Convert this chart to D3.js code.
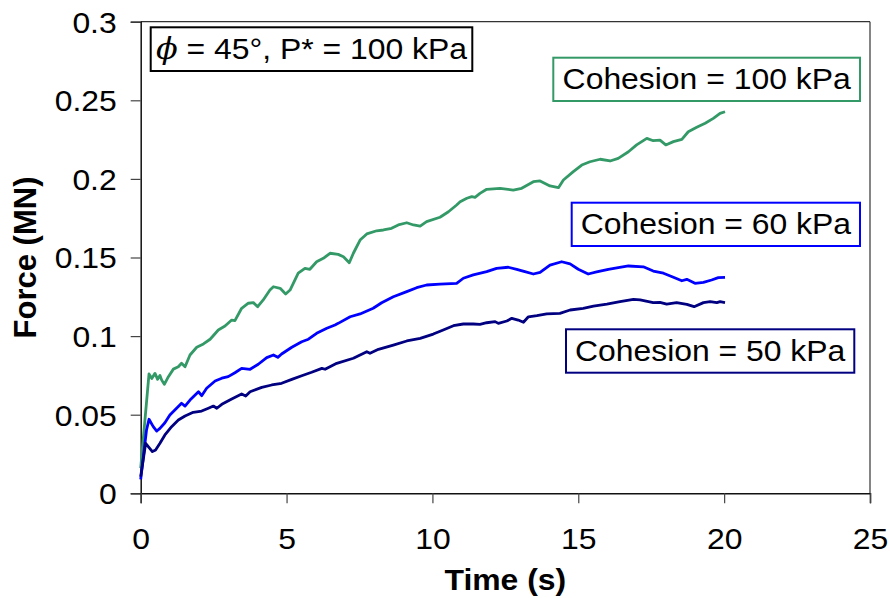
<!DOCTYPE html>
<html>
<head>
<meta charset="utf-8">
<script src="https://cdn.jsdelivr.net/npm/d3@7/dist/d3.min.js"></script>
<style>
  html, body { margin: 0; padding: 0; background: #fff; }
  svg { display: block; font-family: "Liberation Sans", Arial, sans-serif; }
</style>
</head>
<body>
<svg id="chart" width="890" height="598"></svg>
<script>
// Force-time histories for three soil cohesion values
const time100 = [0, 0.285, 0.38, 0.49, 0.58, 0.66, 0.72, 0.81, 0.95, 1.12, 1.29, 1.40, 1.52, 1.69, 1.92, 2.15, 2.38, 2.66, 2.89, 3.12, 3.23, 3.46, 3.69, 3.86, 4.01, 4.2, 4.43, 4.55, 4.78, 4.97, 5.12, 5.40, 5.63, 5.80, 6.03, 6.26, 6.49, 6.77, 6.95, 7.15, 7.29, 7.52, 7.75, 8.09, 8.32, 8.6, 8.83, 9.12, 9.35, 9.58, 9.80, 10.26, 10.55, 10.83, 10.95, 11.18, 11.35, 11.46, 11.63, 11.86, 12.32, 12.77, 13.06, 13.46, 13.69, 14.03, 14.32, 14.49, 14.83, 15.12, 15.40, 15.75, 16.09, 16.37, 16.72, 17.0, 17.35, 17.57, 17.80, 18.0, 18.26, 18.55, 18.77, 19.06, 19.35, 19.63, 19.86, 20.03];
const force100 = [0.016, 0.0759, 0.073, 0.0763, 0.0725, 0.075, 0.072, 0.0693, 0.0742, 0.079, 0.0805, 0.0827, 0.0805, 0.088, 0.0929, 0.095, 0.098, 0.1039, 0.1064, 0.1102, 0.1098, 0.1177, 0.1209, 0.1213, 0.1187, 0.123, 0.1293, 0.1314, 0.1304, 0.1268, 0.1293, 0.14, 0.1431, 0.1425, 0.1473, 0.1495, 0.1527, 0.152, 0.1505, 0.1467, 0.1527, 0.1611, 0.165, 0.167, 0.1675, 0.1686, 0.1707, 0.1721, 0.1707, 0.170, 0.1728, 0.1756, 0.1791, 0.1834, 0.1855, 0.1877, 0.1887, 0.1883, 0.1908, 0.1934, 0.194, 0.1929, 0.194, 0.1982, 0.1987, 0.1955, 0.1944, 0.1993, 0.2046, 0.2088, 0.2109, 0.2125, 0.2114, 0.2131, 0.2173, 0.2216, 0.2258, 0.2243, 0.2247, 0.2216, 0.2237, 0.2252, 0.23, 0.2328, 0.2354, 0.2385, 0.2417, 0.2427];

const time60 = [0, 0.2, 0.285, 0.43, 0.55, 0.66, 0.83, 1.0, 1.23, 1.40, 1.52, 1.69, 1.98, 2.09, 2.26, 2.55, 2.78, 3.0, 3.23, 3.46, 3.75, 4.03, 4.32, 4.55, 4.70, 4.83, 5.18, 5.52, 5.75, 6.03, 6.38, 6.66, 6.77, 7.18, 7.52, 7.97, 8.26, 8.66, 9.12, 9.46, 9.80, 10.26, 10.83, 11.06, 11.40, 11.86, 12.20, 12.60, 12.89, 13.17, 13.46, 13.69, 14.03, 14.43, 14.72, 15.0, 15.34, 15.63, 16.03, 16.37, 16.72, 17.23, 17.57, 17.92, 18.26, 18.55, 18.72, 19.0, 19.29, 19.57, 19.80, 20.03];
const force60 = [0.0089, 0.0403, 0.0471, 0.0424, 0.0396, 0.0413, 0.0449, 0.0498, 0.0541, 0.0573, 0.0555, 0.0593, 0.0646, 0.0621, 0.0668, 0.0714, 0.0732, 0.0742, 0.0767, 0.0795, 0.0789, 0.0821, 0.0863, 0.088, 0.0865, 0.0886, 0.0929, 0.0964, 0.098, 0.1018, 0.105, 0.1071, 0.1081, 0.1123, 0.1141, 0.1177, 0.1212, 0.125, 0.1283, 0.1308, 0.1325, 0.133, 0.1336, 0.1368, 0.1389, 0.141, 0.1431, 0.1438, 0.1425, 0.141, 0.1395, 0.1405, 0.1452, 0.1473, 0.1459, 0.1425, 0.1395, 0.1408, 0.1425, 0.1435, 0.1446, 0.1441, 0.1414, 0.14, 0.1374, 0.1352, 0.1361, 0.1336, 0.1342, 0.1357, 0.1372, 0.1374];

const time50 = [0, 0.17, 0.26, 0.40, 0.51, 0.66, 0.83, 1.06, 1.29, 1.52, 1.80, 2.09, 2.32, 2.49, 2.61, 2.78, 3.12, 3.46, 3.60, 3.75, 4.15, 4.49, 4.83, 5.18, 5.52, 5.86, 6.21, 6.32, 6.72, 7.29, 7.75, 7.86, 8.15, 8.66, 9.12, 9.58, 10.03, 10.37, 10.72, 11.06, 11.40, 11.63, 11.86, 12.15, 12.26, 12.55, 12.72, 12.94, 13.12, 13.29, 13.58, 13.92, 14.37, 14.72, 15.17, 15.52, 15.98, 16.43, 16.89, 17.12, 17.57, 17.80, 18.03, 18.37, 18.72, 18.97, 19.29, 19.52, 19.75, 19.86, 20.03];
const force50 = [0.0106, 0.0318, 0.0297, 0.0265, 0.0276, 0.0318, 0.0371, 0.0424, 0.0466, 0.0492, 0.0515, 0.0523, 0.0541, 0.0555, 0.0541, 0.0566, 0.06, 0.0632, 0.0619, 0.0646, 0.0674, 0.0689, 0.07, 0.0725, 0.0748, 0.077, 0.0795, 0.0789, 0.0827, 0.0859, 0.0901, 0.0891, 0.0916, 0.0943, 0.0969, 0.0986, 0.1013, 0.1039, 0.1066, 0.1077, 0.1077, 0.1075, 0.1085, 0.1092, 0.1081, 0.1096, 0.1113, 0.1102, 0.1088, 0.1123, 0.113, 0.1141, 0.1145, 0.1166, 0.1177, 0.1191, 0.1204, 0.1219, 0.1234, 0.123, 0.1213, 0.1215, 0.1204, 0.1213, 0.1202, 0.1187, 0.1213, 0.1219, 0.1213, 0.1219, 0.1213];

const seriesNames = ["Cohesion = 100 kPa", "Cohesion = 60 kPa", "Cohesion = 50 kPa"];
const seriesColors = ["#339966", "#0000ff", "#000080"];
const xTicks = [0, 5, 10, 15, 20, 25];
const yTicks = [0, 0.05, 0.1, 0.15, 0.2, 0.25, 0.3];
const yTickLabels = ["0", "0.05", "0.1", "0.15", "0.2", "0.25", "0.3"];
const xTitle = "Time (s)";
const yTitle = "Force (MN)";

const svg = d3.select("#chart");
const plot = { left: 140.7, right: 870, top: 21.7, bottom: 493.3 };
const FONT = 29;
const WIDEN = 1.1; // horizontal widening of the lettering

// widen a text element horizontally around its anchor x
function widen(sel, ax) {
  sel.attr("transform", `translate(${ax},0) scale(${WIDEN},1) translate(${-ax},0)`);
}

const x = d3.scaleLinear().domain([0, 25]).range([plot.left, plot.right]);
const y = d3.scaleLinear().domain([0, 0.3]).range([plot.bottom, plot.top]);

// frame: top and right borders
svg.append("line").attr("x1", plot.left).attr("x2", plot.right)
  .attr("y1", plot.top).attr("y2", plot.top)
  .attr("stroke", "#333").attr("stroke-width", 1.2);
svg.append("line").attr("x1", plot.right).attr("x2", plot.right)
  .attr("y1", plot.top).attr("y2", plot.bottom)
  .attr("stroke", "#333").attr("stroke-width", 1.2);

// y axis
const yAxis = svg.append("g")
  .attr("transform", `translate(${plot.left},0)`)
  .call(d3.axisLeft(y).tickValues(yTicks)
    .tickFormat((d, i) => yTickLabels[i]).tickSize(10).tickPadding(14));
// x axis
const xAxis = svg.append("g")
  .attr("transform", `translate(0,${plot.bottom})`)
  .call(d3.axisBottom(x).tickValues(xTicks).tickFormat(d3.format("d"))
    .tickSize(10).tickPadding(25));

[yAxis, xAxis].forEach(ax => {
  ax.select(".domain").attr("stroke", "#111").attr("stroke-width", 1.5);
  ax.selectAll(".tick line").attr("stroke", "#444").attr("stroke-width", 1.2);
  ax.selectAll(".tick text").attr("fill", "#000")
    .style("font-family", "'Liberation Sans', Arial, sans-serif")
    .style("font-size", FONT + "px");
});
yAxis.selectAll(".tick text").attr("dy", "0.36em").each(function () {
  widen(d3.select(this), +d3.select(this).attr("x"));
});
xAxis.selectAll(".tick text").each(function () { widen(d3.select(this), 0); });

// axis titles
const xt = svg.append("text").attr("x", (plot.left + plot.right) / 2).attr("y", 590)
  .attr("text-anchor", "middle").attr("font-weight", "bold")
  .attr("font-size", FONT).text(xTitle);
widen(xt, (plot.left + plot.right) / 2);
svg.append("text")
  .attr("transform", `translate(36,${(plot.top + plot.bottom) / 2}) rotate(-90)`)
  .attr("text-anchor", "middle").attr("font-weight", "bold")
  .attr("font-size", 31).text(yTitle);

// curves
const line = d3.line().x(d => x(d[0])).y(d => y(d[1]));
const series = [
  d3.zip(time100, force100),
  d3.zip(time60, force60),
  d3.zip(time50, force50)
];
series.forEach((s, i) => {
  svg.append("path").datum(s)
    .attr("fill", "none").attr("stroke", seriesColors[i])
    .attr("stroke-width", 2.8).attr("stroke-linejoin", "round")
    .attr("d", line);
});

// boxed labels
function boxedLabel(rect, color, draw) {
  svg.append("rect").attr("x", rect[0]).attr("y", rect[1])
    .attr("width", rect[2] - rect[0]).attr("height", rect[3] - rect[1])
    .attr("fill", "#fff").attr("stroke", color).attr("stroke-width", 2);
  const cx = (rect[0] + rect[2]) / 2;
  const t = svg.append("text")
    .attr("x", cx).attr("y", (rect[1] + rect[3]) / 2 + 10)
    .attr("text-anchor", "middle").attr("font-size", FONT).attr("fill", "#000");
  draw(t);
  widen(t, cx);
}

const labelRects = [
  [553.3, 57.7, 860, 101],
  [571.7, 202.7, 860, 246],
  [566, 329.3, 854.3, 372.7]
];
labelRects.forEach((r, i) => boxedLabel(r, seriesColors[i], t => t.text(seriesNames[i])));

boxedLabel([150.7, 27.3, 472.3, 71], "#000", t => {
  t.append("tspan").attr("font-style", "italic")
    .style("font-family", "'DejaVu Serif', serif").text("\u03D5");
  t.append("tspan").text(" = 45\u00B0, P* = 100 kPa");
});
</script>
</body>
</html>
